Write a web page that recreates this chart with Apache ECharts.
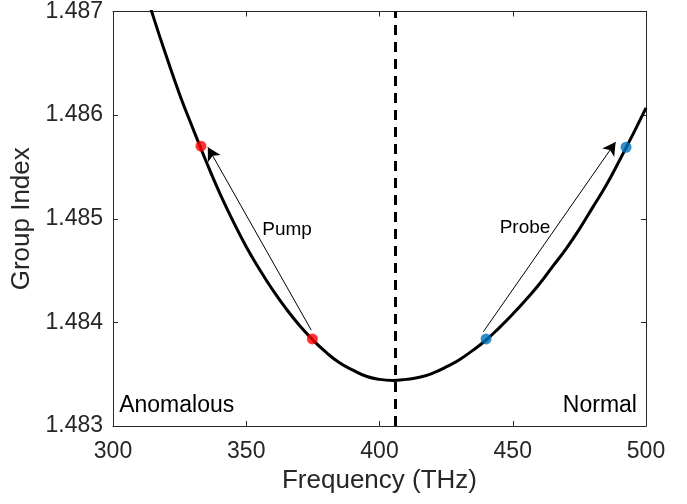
<!DOCTYPE html>
<html>
<head>
<meta charset="utf-8">
<script src="https://cdn.jsdelivr.net/npm/echarts@6/dist/echarts.min.js"></script>
<style>
  html, body { margin: 0; padding: 0; background: #fff; }
  #chart { width: 687px; height: 504px; }
</style>
</head>
<body>
<div id="chart"></div>
<script>
// Dispersion curve
const freq = [310, 315, 320, 325, 330, 335, 340, 345, 350, 355, 360, 365, 370, 375, 380, 385, 390, 395, 400, 405,
              410, 415, 420, 425, 430, 435, 440, 445, 450, 455, 460, 465, 470, 475, 480, 485, 490, 495, 500];
const groupIndex = [1.48738, 1.48696, 1.48657, 1.48620, 1.48587, 1.48555, 1.48525, 1.48498, 1.48473, 1.48451,
                    1.48431, 1.48413, 1.48397, 1.48383, 1.48371, 1.48361, 1.48354, 1.48348, 1.48345, 1.48344,
                    1.48345, 1.48347, 1.48351, 1.48357, 1.48364, 1.48373, 1.48383, 1.48395, 1.48408, 1.48422,
                    1.48437, 1.48454, 1.48471, 1.48490, 1.48511, 1.48532, 1.48556, 1.48581, 1.48607];

// Marked points
const pumpPoints = [[333.0, 1.48570], [374.8, 1.48384]];
const probePoints = [[440.0, 1.48384], [492.5, 1.48569]];

// Arrows: [start, end]
const pumpArrow = [[374.4, 1.483925], [335.6, 1.48569]];
const probeArrow = [[438.95, 1.483909], [488.6, 1.48574]];

// Zero-dispersion line
const zeroDispersionFreq = 406;

// Text annotations [x, y, text]
const pumpLabel = [365.3, 1.48489, 'Pump'];
const probeLabel = [454.6, 1.48491, 'Probe'];
const anomalousLabel = [323.9, 1.48320, 'Anomalous'];
const normalLabel = [482.7, 1.48320, 'Normal'];

// Axis settings
const xTicks = { min: 300, max: 500, interval: 50 };
const yTicks = { min: 1.483, max: 1.487, interval: 0.001 };
const xTitle = 'Frequency (THz)';
const yTitle = 'Group Index';

const FONT = "'Liberation Sans', Arial, Helvetica, sans-serif";
const AX = '#262626';

const curve = freq.map((f, i) => [f, groupIndex[i]]);

function textSeries(lbl, size) {
  return {
    type: 'scatter',
    symbol: 'circle',
    symbolSize: 1,
    silent: true,
    itemStyle: { color: '#ffffff', opacity: 0 },
    data: [[lbl[0], lbl[1]]],
    label: {
      show: true, position: 'inside', formatter: lbl[2], opacity: 1,
      color: '#000000', fontSize: size, fontFamily: FONT,
      textBorderWidth: 0, textBorderColor: 'transparent'
    },
    z: 5
  };
}

function arrowSeries(arr) {
  return {
    type: 'line',
    data: [],
    silent: true,
    markLine: {
      silent: true,
      symbol: ['none', 'arrow'],
      symbolSize: [11, 13],
      label: { show: false },
      lineStyle: { color: '#000', width: 1, type: 'solid' },
      data: [[{ coord: arr[0] }, { coord: arr[1] }]],
      animation: false
    },
    z: 4
  };
}

const chart = echarts.init(document.getElementById('chart'), null, { renderer: 'canvas' });

const option = {
  animation: false,
  backgroundColor: '#fff',
  grid: { left: 113, right: 41, top: 11, bottom: 78, containLabel: false },
  xAxis: [
    {
      type: 'value', min: xTicks.min, max: xTicks.max, interval: xTicks.interval,
      position: 'bottom',
      name: xTitle, nameLocation: 'middle', nameGap: 40,
      nameTextStyle: { fontSize: 26, fontFamily: FONT, color: AX },
      axisLine: { show: true, lineStyle: { color: AX, width: 1 } },
      axisTick: { show: true, inside: true, length: 5, lineStyle: { color: AX } },
      axisLabel: { fontSize: 23, fontFamily: FONT, color: AX, margin: 14 },
      splitLine: { show: false }
    },
    {
      type: 'value', min: xTicks.min, max: xTicks.max, interval: xTicks.interval,
      position: 'top',
      axisLine: { show: true, lineStyle: { color: AX, width: 1 } },
      axisTick: { show: true, inside: true, length: 5, lineStyle: { color: AX } },
      axisLabel: { show: false },
      splitLine: { show: false }
    }
  ],
  yAxis: [
    {
      type: 'value', min: yTicks.min, max: yTicks.max, interval: yTicks.interval,
      position: 'left',
      name: yTitle, nameLocation: 'middle', nameGap: 77, nameRotate: 90,
      nameTextStyle: { fontSize: 26, fontFamily: FONT, color: AX },
      axisLine: { show: true, lineStyle: { color: AX, width: 1 } },
      axisTick: { show: true, inside: true, length: 5, lineStyle: { color: AX } },
      axisLabel: { fontSize: 23, fontFamily: FONT, color: AX, margin: 10,
                   formatter: v => v.toFixed(3) },
      splitLine: { show: false }
    },
    {
      type: 'value', min: yTicks.min, max: yTicks.max, interval: yTicks.interval,
      position: 'right',
      axisLine: { show: true, lineStyle: { color: AX, width: 1 } },
      axisTick: { show: true, inside: true, length: 5, lineStyle: { color: AX } },
      axisLabel: { show: false },
      splitLine: { show: false }
    }
  ],
  series: [
    {
      type: 'line',
      data: curve,
      smooth: true,
      showSymbol: false,
      clip: true,
      lineStyle: { color: '#000', width: 3 },
      markLine: {
        silent: true,
        symbol: ['none', 'none'],
        label: { show: false },
        lineStyle: { color: '#000', width: 3, type: [10, 7] },
        data: [{ xAxis: zeroDispersionFreq }]
      },
      z: 2
    },
    arrowSeries(pumpArrow),
    arrowSeries(probeArrow),
    {
      type: 'scatter',
      data: pumpPoints,
      symbol: 'circle',
      symbolSize: 11,
      itemStyle: { color: '#FF0000' },
      z: 6
    },
    {
      type: 'scatter',
      data: probePoints,
      symbol: 'circle',
      symbolSize: 11,
      itemStyle: { color: '#0072BD' },
      z: 6
    },
    textSeries(pumpLabel, 19),
    textSeries(probeLabel, 19),
    textSeries(anomalousLabel, 23),
    textSeries(normalLabel, 23)
  ]
};

chart.setOption(option);
</script>
</body>
</html>
